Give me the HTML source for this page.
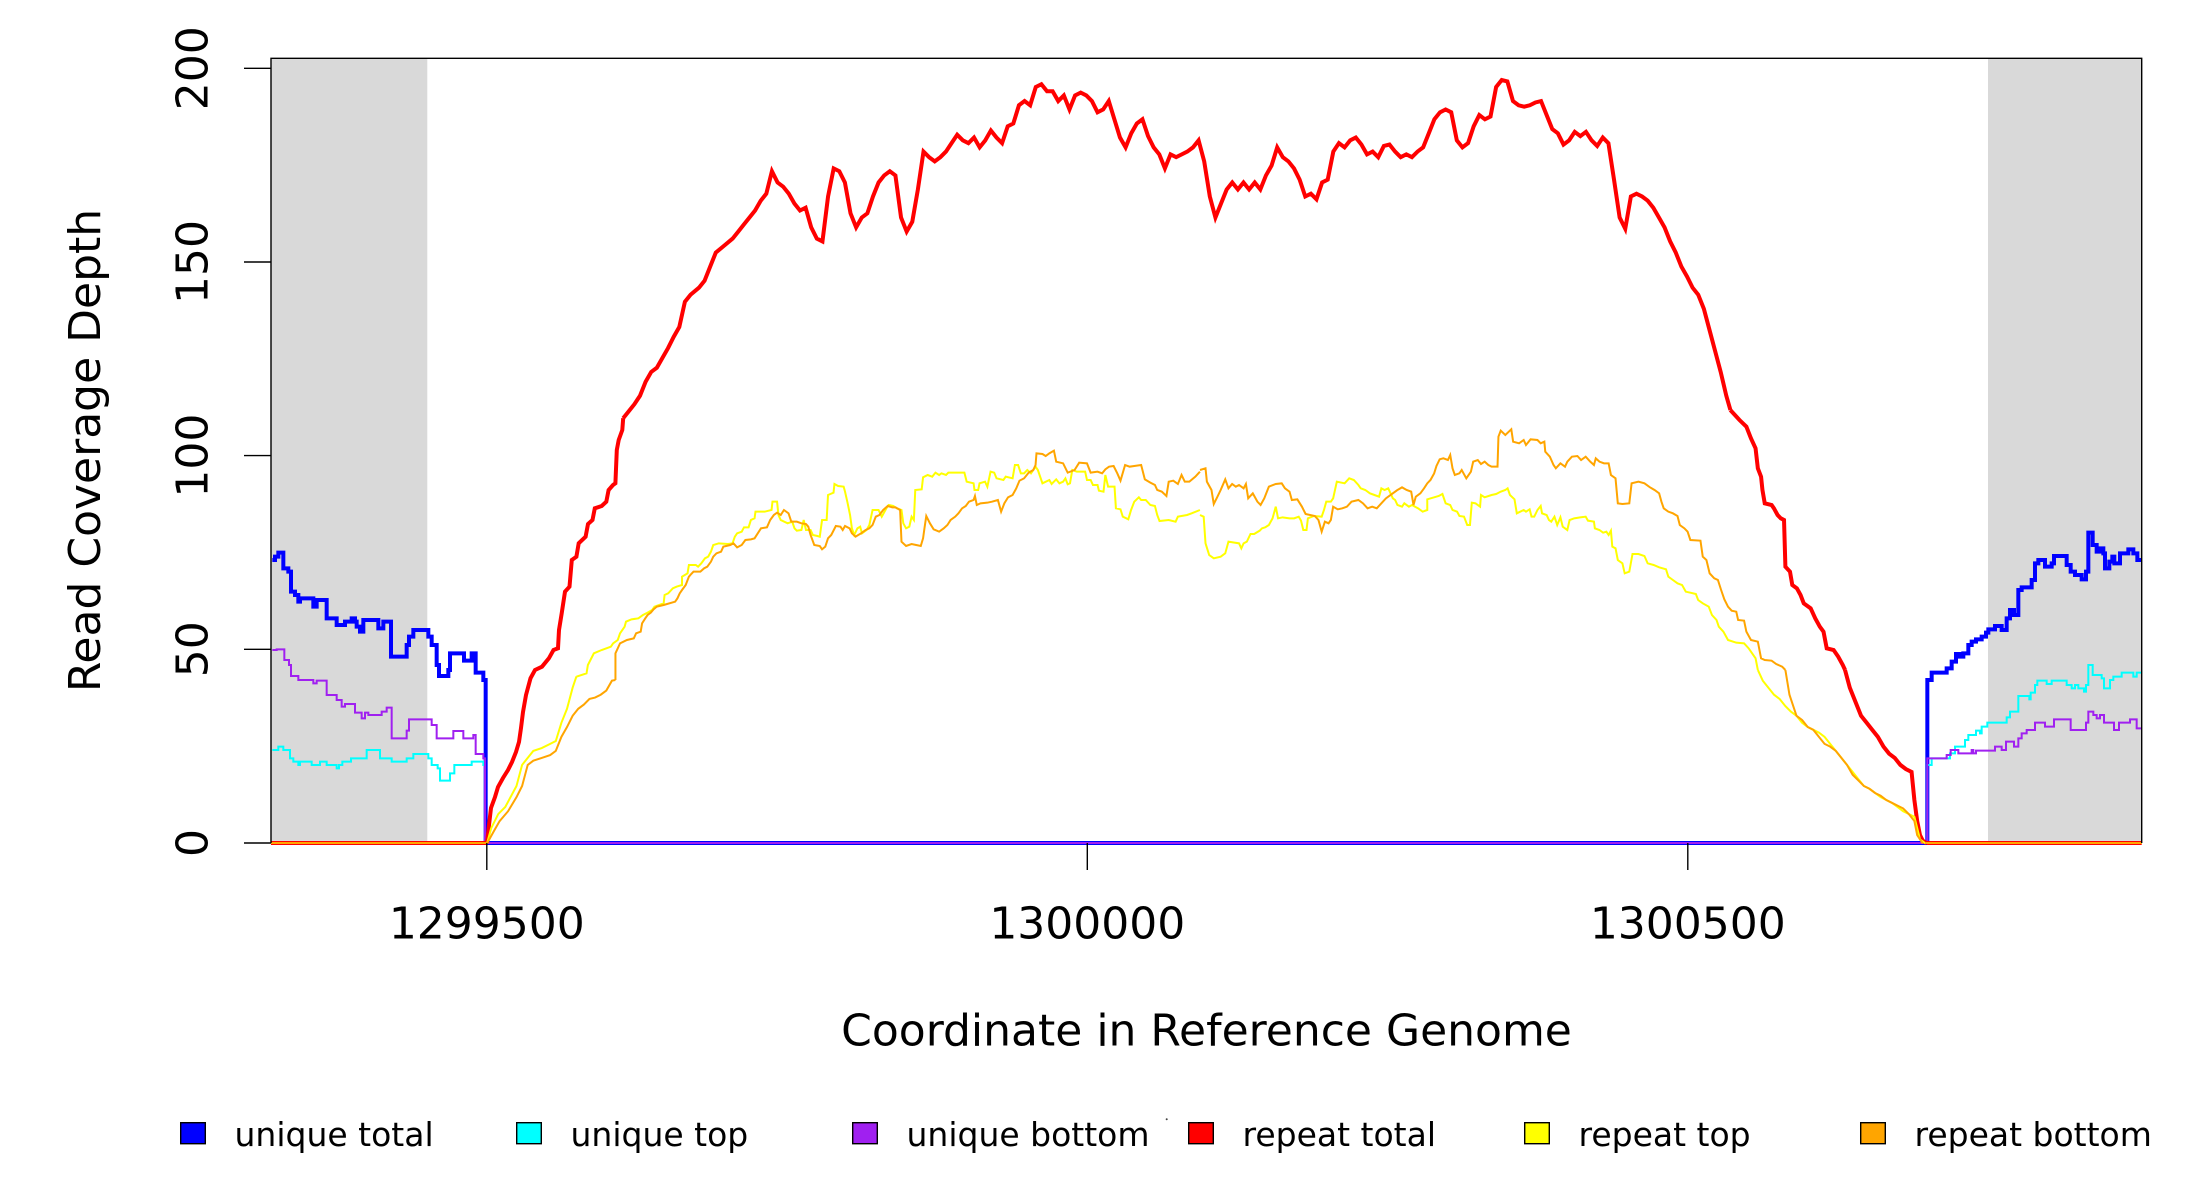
<!DOCTYPE html>
<html>
<head>
<meta charset="utf-8">
<style>
html,body{margin:0;padding:0;background:#fff;}
svg{display:block;}
text{font-family:"DejaVu Sans","Liberation Sans",sans-serif;fill:#000;}
.ns{vector-effect:non-scaling-stroke;fill:none;stroke-linejoin:miter;stroke-linecap:butt;}
</style>
</head>
<body>
<svg width="2200" height="1200" viewBox="0 0 2200 1200" xmlns="http://www.w3.org/2000/svg">
<rect x="0" y="0" width="2200" height="1200" fill="#fff"/>
<!-- gray regions -->
<rect x="271" y="58" width="156.3" height="785" fill="#d9d9d9"/>
<rect x="1988" y="58" width="153.7" height="785" fill="#d9d9d9"/>

<!-- ===== unique total (blue) ===== -->
<g transform="translate(265,530) scale(0.333333)">
<path class="ns" stroke="#0000ff" stroke-width="4" d="M22,90 H30 V80 H40 V68 H55 V115 H70 V125 H78 V185 H90 V195 H100 V215 H105 V205 H145 V230 H155 V210 H185 V265 H215 V285 H240 V275 H260 V265 H270 V275 H275 V290 H285 V305 H295 V270 H340 V295 H355 V275 H378 V380 H425 V345 H432 V320 H445 V300 H490 V320 H500 V345 H515 V405 H522 V438 H550 V420 H555 V370 H597 V392 H620 V370 H632 V428 H655 V450 H662 V939"/>
</g>
<path class="ns" stroke="#0000ff" stroke-width="4" d="M485.7,843 H1927.3"/>
<g transform="translate(1900,500) scale(0.333333)">
<path class="ns" stroke="#0000ff" stroke-width="4" d="M82,1029 V540 H95 V518 H140 V505 H155 V485 H168 V462 H180 V470 H190 V460 H205 V435 H215 V425 H228 V418 H245 V410 H258 V398 H265 V388 H285 V378 H305 V390 H320 V355 H330 V330 H342 V345 H355 V270 H365 V262 H395 V240 H405 V190 H415 V180 H435 V200 H455 V190 H462 V168 H500 V195 H512 V215 H525 V225 H545 V238 H558 V215 H565 V98 H578 V135 H590 V155 H600 V145 H610 V160 H615 V205 H628 V185 H637 V170 H643 V190 H660 V160 H685 V148 H700 V160 H712 V180 H725"/>
</g>

<!-- ===== unique top (cyan) ===== -->
<g transform="translate(265,530) scale(0.333333)">
<path class="ns" stroke="#00ffff" stroke-width="2" d="M22,660 H40 V650 H55 V660 H75 V685 H85 V695 H100 V705 H105 V695 H140 V705 H165 V695 H185 V705 H215 V715 H222 V705 H232 V695 H258 V685 H305 V660 H345 V685 H380 V695 H425 V685 H445 V672 H490 V685 H500 V705 H518 V715 H525 V752 H555 V730 H568 V705 H620 V695 H655 V705 H660 V939"/>
</g>
<g transform="translate(1900,500) scale(0.333333)">
<path class="ns" stroke="#00ffff" stroke-width="2" d="M82,1029 V795 H95 V775 H150 V760 H165 V740 H195 V720 H205 V705 H228 V692 H240 V700 H245 V680 H262 V668 H320 V652 H330 V635 H355 V588 H388 V598 H392 V578 H405 V555 H412 V542 H440 V552 H455 V542 H500 V555 H515 V565 H525 V555 H535 V565 H552 V575 H558 V555 H565 V495 H578 V525 H605 V535 H612 V565 H630 V540 H640 V530 H665 V518 H700 V530 H710 V518 H725"/>
</g>

<!-- ===== unique bottom (purple) ===== -->
<g transform="translate(265,530) scale(0.333333)">
<path class="ns" stroke="#a020f0" stroke-width="2" d="M22,360 H35 V358 H58 V390 H72 V405 H78 V438 H100 V450 H145 V460 H155 V452 H185 V495 H215 V510 H230 V530 H240 V522 H270 V548 H290 V565 H300 V548 H310 V555 H350 V545 H365 V533 H380 V625 H425 V602 H432 V568 H500 V585 H515 V625 H565 V603 H595 V625 H625 V615 H632 V672 H655 V685 H660 V939"/>
</g>
<path class="ns" stroke="#a020f0" stroke-width="2" d="M485.7,843 H1927.3"/>
<g transform="translate(1900,500) scale(0.333333)">
<path class="ns" stroke="#a020f0" stroke-width="2" d="M82,1029 V775 H140 V765 H152 V750 H175 V760 H215 V750 H220 V760 H228 V752 H285 V740 H305 V750 H318 V725 H342 V740 H355 V715 H365 V700 H380 V690 H405 V668 H435 V680 H462 V658 H512 V690 H558 V668 H565 V635 H580 V645 H590 V655 H600 V645 H612 V668 H642 V690 H657 V668 H690 V658 H710 V685 H725"/>
</g>

<!-- ===== repeat total (red) ===== -->
<path class="ns" stroke="#ff0000" stroke-width="4" d="M271,843 H487 M1927,843 H2141.7"/>
<path class="ns" stroke="#ff0000" stroke-width="4" d="M487,843 L489,825 L491,808 L495,797 L498,787 L503,778 L508,770 L512,762 L516,752 L519,742 L521,728 L523,712 L526,695 L530.5,678.3 L535,670 L542,666.7 L548.9,658.3 L553.5,650 L558,648.3 L559,630 L561.7,613.3 L565,591.7 L569.5,586.7 L571.8,560 L576.4,556.7 L578.7,543.3 L585.6,536.7 L588,524 L592.5,520 L594.8,508.3 L601.7,506 L606.3,501.7 L608.6,490 L613,485 L615.4,483.3 L616.8,450 L618.7,440 L622.3,430 L623.2,418.2"/>
<g transform="scale(1.4035)">
<path class="ns" stroke="#ff0000" stroke-width="4" d="M444,298 L448,293 L452,288 L456,282 L460,272 L464,265 L468,262 L472,255 L476,248 L480,240 L484,233 L488,215 L492,210 L498,205 L502,200 L506,190 L510,180 L516,175 L522,170 L526,165 L530,160 L534,155 L538,150 L542,143 L546,138 L550,122 L554,130 L558,133 L562,138 L566,145 L570,150 L574,148 L578,162 L582,170 L586,172 L590,140 L594,120 L598,122 L602,130 L606,152 L610,162 L614,155 L618,152 L622,140 L626,130 L630,125 L634,122 L638,125 L642,155 L646,165 L650,158 L654,135 L658,108 L662,112 L666,115 L670,112 L674,108 L678,102 L682,96 L686,100 L690,102 L694,98 L698,105 L702,100 L706,93 L710,98 L714,102 L718,90 L722,88 L726,75 L730,72 L734,75 L738,62 L742,60 L746,65 L750,65 L754,72 L758,68 L762,78 L766,68 L770,66 L774,68 L778,72 L782,80 L786,78 L790,72 L794,85 L798,98 L802,105 L806,95 L810,88 L814,85 L818,97 L822,105 L826,110 L830,120 L834,110 L838,112 L842,110 L846,108 L850,105 L854,100 L858,115 L862,140 L866,155 L870,145 L874,135 L878,130 L882,135 L886,130 L890,135 L894,130 L898,135 L902,125 L906,118 L910,105 L914,112 L918,115 L922,120 L926,128 L930,140 L934,138 L938,142 L942,130 L946,128 L950,108 L954,102 L958,105 L962,100 L966,98 L970,103 L974,110 L978,108 L982,112 L986,104 L990,103 L994,108 L998,112 L1002,110 L1006,112 L1010,108 L1014,105 L1018,95 L1022,85 L1026,80 L1030,78 L1034,80 L1038,100 L1042,105 L1046,102 L1050,90 L1054,82 L1058,85 L1062,83 L1066,62 L1070,57 L1074,58 L1078,72 L1082,75 L1086,76 L1090,75 L1094,73 L1098,72 L1102,82 L1106,92 L1110,95 L1114,103 L1118,100 L1122,94 L1126,97 L1130,94 L1134,100 L1138,104 L1142,98 L1146,102 L1150,128 L1154,155 L1158,163 L1162,140 L1166,138 L1170,140 L1174,143 L1178,148 L1182,155 L1186,162 L1190,172 L1194,180 L1198,190 L1202,197 L1206,205 L1210,210 L1214,220 L1218,235 L1222,250 L1226,265 L1230,282 L1232.9,292.1"/>
<path class="ns" stroke="#ff0000" stroke-width="4" d="M1314.6,477.4 L1318,490 L1322,500 L1326,510 L1330,515 L1334,520 L1338,525 L1342,532 L1346,537 L1350,540 L1354,545 L1358,548 L1362,550 L1364,570 L1366,585 L1368,595 L1370,599 L1373,601"/>
</g>
<g transform="translate(1200,410) scale(0.459137,0.333333)">
<path class="ns" stroke="#ff0000" stroke-width="4" d="M1155,0 L1175,30 L1190,50 L1200,85 L1210,115 L1215,175 L1222,200 L1225,240 L1230,280 L1245,285 L1250,295 L1258,315 L1265,325 L1272,330 L1275,470 L1285,485 L1290,525 L1300,535 L1308,555 L1315,580 L1330,595 L1340,625 L1350,650 L1358,665 L1365,715 L1380,720 L1390,740 L1400,765 L1405,780"/>
</g>

<!-- ===== repeat top (yellow) ===== -->
<path class="ns" stroke="#ffff00" stroke-width="2" d="M271,843 H487 M1925,843 H2141.7"/>
<g transform="scale(1.4035)">
<path class="ns" stroke="#ffff00" stroke-width="2" d="M347,601 L350,590 L355,580 L360,575 L368,560 L372,545 L376,540 L380,535 L386,533 L392,530 L396,528 L400,515 L404,505 L408,490 L410.7,482"/>
<path class="ns" stroke="#ffff00" stroke-width="2" d="M1252.5,477.4 L1256,485 L1260,490 L1264,495 L1268,498 L1272,503 L1276,507 L1280,510 L1284,515 L1288,518 L1292,520 L1296,522 L1300,525 L1304,530 L1308,535 L1312,540 L1316,545 L1320,550 L1324,555 L1328,560 L1332,562 L1336,565 L1340,568 L1344,570 L1348,572 L1352,575 L1356,578 L1360,580 L1364,582 L1366,590 L1368,598 L1372,601"/>
</g>
<g transform="translate(480,420) scale(0.459137,0.333333)">
<path class="ns" stroke="#ffff00" stroke-width="2" d="M210,770 L232,760 L235,735 L248,700 L265,690 L285,680 L290,670 L300,660 L305,640 L315,620 L318,605 L330,598 L345,595 L355,585 L365,578 L375,570 L380,560 L400,550 L402,525 L410,520 L420,505 L428,500 L440,495 L440,470 L452,460 L455,435 L470,435 L475,440 L482,430 L490,415 L497,410 L503,395 L508,375 L520,370 L540,372 L550,370 L555,350 L560,340 L570,335 L575,322 L585,322 L590,300 L598,295 L600,275 L620,275 L635,270 L637,245 L647,245 L650,285 L655,300 L670,310 L680,305 L685,325 L690,332 L700,330 L705,300 L710,330 L720,330 L725,345 L735,348 L740,350 L745,300 L755,300 L758,225 L770,218 L772,192 L780,198 L792,200 L795,215 L800,245 L806,285 L810,325 L815,345 L822,325 L828,320 L832,340 L842,330 L848,315 L855,270 L868,270 L875,290 L885,265 L890,255 L900,258 L908,265 L918,270 L922,310 L928,325 L935,320 L940,290 L945,300 L948,210 L962,208 L965,172 L975,165 L985,170 L992,158 L1000,165 L1005,160 L1015,165 L1020,158 L1055,158 L1060,185 L1075,190 L1077,210 L1085,210 L1088,190 L1100,185 L1105,200 L1112,155 L1120,158 L1125,175 L1140,180 L1145,170 L1160,175 L1165,135 L1172,135 L1178,160 L1185,160 L1192,150 L1200,160 L1210,140 L1215,150 L1225,190 L1240,180 L1245,192 L1255,178 L1262,190 L1270,185 L1275,175 L1280,193 L1285,190 L1290,150 L1300,155 L1318,155 L1322,180 L1330,180 L1335,195 L1345,195 L1348,212 L1358,215 L1362,165 L1368,200 L1382,200 L1385,265 L1395,268 L1400,290 L1412,298 L1418,270 L1425,245 L1435,232 L1440,240 L1450,240 L1460,255 L1470,258 L1475,285 L1480,303 L1500,300 L1515,305 L1520,290 L1540,285 L1550,280 L1568,270"/>
</g>
<g transform="translate(1200,410) scale(0.459137,0.333333)">
<path class="ns" stroke="#ffff00" stroke-width="2" d="M0,315 L8,320 L12,400 L20,435 L30,445 L45,440 L55,430 L62,395 L75,398 L85,400 L90,415 L95,400 L102,395 L110,372 L118,372 L130,362 L135,355 L142,352 L150,345 L158,325 L165,290 L170,325 L180,322 L195,325 L205,325 L215,320 L220,332 L225,360 L232,360 L235,325 L248,318 L265,320 L270,300 L275,275 L285,275 L290,265 L298,215 L315,220 L325,205 L335,210 L345,225 L350,235 L360,240 L370,250 L380,255 L390,260 L395,235 L402,240 L410,235 L415,250 L420,265 L425,270 L430,285 L440,290 L445,280 L455,290 L462,285 L468,290 L475,295 L485,305 L495,300 L495,268 L510,262 L520,258 L528,252 L535,280 L545,285 L550,300 L560,305 L565,318 L575,320 L582,345 L588,345 L592,278 L600,280 L610,290 L612,255 L620,262 L635,255 L645,252 L655,245 L665,240 L670,235 L675,255 L685,268 L690,310 L705,300 L710,305 L718,298 L722,320 L728,320 L735,300 L742,288 L745,310 L755,315 L760,330 L765,335 L772,320 L778,345 L785,322 L790,350 L800,360 L805,330 L815,325 L828,322 L840,320 L845,332 L858,335 L860,355 L870,360 L878,368 L885,365 L890,375 L895,362 L898,410 L905,415 L910,450 L920,460 L925,490 L935,485 L942,432 L955,432 L968,438 L975,460 L988,465 L1000,472 L1015,478 L1020,500 L1030,510 L1040,520 L1050,525 L1058,545 L1068,548 L1080,552 L1085,570 L1095,580 L1108,590 L1115,615 L1125,630 L1130,650 L1140,665 L1150,690 L1168,698 L1185,700 L1195,715 L1210,745 L1215,780"/>
</g>

<!-- ===== repeat bottom (orange) ===== -->
<path class="ns" stroke="#ffa500" stroke-width="2" d="M271,843 H487 M1925,843 H2141.7"/>
<g transform="scale(1.4035)">
<path class="ns" stroke="#ffa500" stroke-width="2" d="M347,601 L352,592 L356,585 L362,578 L368,568 L372,560 L376,545 L380,542 L386,540 L392,538 L396,535 L400,525 L404,518 L408,510 L412,505 L416,502 L420,498 L424,497 L428,495 L432,492 L436,485 L438.5,484.5"/>
<path class="ns" stroke="#ffa500" stroke-width="2" d="M1272.1,477.4 L1275,495 L1280,510 L1284,513 L1288,518 L1292,520 L1296,525 L1300,530 L1304,532 L1308,535 L1312,540 L1316,545 L1320,552 L1324,556 L1328,560 L1332,562 L1336,565 L1340,567 L1344,570 L1348,572 L1352,574 L1356,576 L1360,580 L1364,585 L1366,595 L1370,601"/>
</g>
<g transform="translate(480,420) scale(0.459137,0.333333)">
<path class="ns" stroke="#ffa500" stroke-width="2" d="M295,780 L295,700 L305,670 L320,660 L335,655 L340,640 L350,635 L353,610 L360,595 L365,585 L372,578 L378,568 L385,560 L400,555 L425,545 L430,535 L435,520 L440,510 L448,495 L455,470 L460,462 L465,455 L480,455 L488,445 L495,440 L503,425 L508,410 L515,400 L525,395 L530,380 L545,375 L552,370 L560,382 L570,375 L578,360 L590,358 L598,355 L605,340 L612,325 L625,322 L632,300 L640,285 L647,278 L655,285 L662,270 L672,280 L678,305 L690,305 L700,310 L710,312 L715,320 L720,345 L728,375 L740,378 L745,388 L752,380 L758,355 L765,345 L775,318 L785,320 L790,330 L795,318 L805,325 L810,340 L818,350 L830,340 L840,330 L848,325 L855,315 L862,290 L870,285 L878,270 L888,258 L898,262 L905,262 L915,270 L918,365 L928,378 L940,372 L950,375 L960,378 L965,355 L968,325 L972,288 L980,310 L988,328 L1000,335 L1010,325 L1018,315 L1025,300 L1035,290 L1042,280 L1050,265 L1058,258 L1065,245 L1075,240 L1078,228 L1082,255 L1090,250 L1105,248 L1115,245 L1128,240 L1135,275 L1142,250 L1150,232 L1160,225 L1168,205 L1175,182 L1185,175 L1195,158 L1205,150 L1210,135 L1212,100 L1225,102 L1232,108 L1240,100 L1250,92 L1255,125 L1270,130 L1280,158 L1295,150 L1305,128 L1322,130 L1330,158 L1345,155 L1355,160 L1362,148 L1370,140 L1380,138 L1388,160 L1395,182 L1405,135 L1415,140 L1425,138 L1440,135 L1448,178 L1460,188 L1470,195 L1475,210 L1485,215 L1495,228 L1500,185 L1510,182 L1520,192 L1528,165 L1535,185 L1545,185 L1558,170 L1568,155"/>
</g>
<g transform="translate(1200,410) scale(0.459137,0.333333)">
<path class="ns" stroke="#ffa500" stroke-width="2" d="M0,180 L12,175 L15,215 L25,240 L30,282 L38,260 L45,240 L55,208 L62,235 L70,222 L78,230 L85,225 L95,235 L100,222 L105,265 L115,250 L125,275 L132,285 L140,265 L150,230 L165,222 L178,220 L185,235 L195,245 L200,270 L212,268 L222,290 L230,312 L250,318 L258,330 L265,365 L272,335 L280,340 L285,330 L290,290 L300,298 L310,295 L320,290 L330,275 L345,270 L355,280 L365,295 L375,290 L385,295 L395,280 L405,265 L420,250 L430,240 L440,232 L450,240 L460,245 L465,285 L470,260 L480,250 L488,235 L495,220 L502,210 L510,190 L515,168 L522,148 L530,145 L540,150 L545,135 L550,175 L555,195 L565,190 L570,180 L580,205 L590,185 L595,155 L605,150 L612,162 L620,155 L628,165 L635,170 L648,170 L650,80 L655,62 L665,75 L678,58 L682,95 L695,100 L705,90 L710,105 L720,88 L735,90 L742,100 L750,95 L752,125 L762,140 L770,165 L775,175 L785,160 L795,170 L800,155 L810,140 L822,138 L830,150 L840,140 L850,155 L858,165 L862,145 L870,155 L880,160 L890,160 L895,195 L905,205 L910,280 L920,282 L935,280 L940,220 L955,215 L968,220 L980,232 L990,240 L1000,250 L1005,275 L1010,295 L1020,305 L1030,310 L1040,318 L1045,345 L1055,355 L1062,365 L1068,390 L1090,392 L1095,440 L1103,450 L1110,490 L1120,505 L1128,510 L1135,540 L1142,568 L1150,590 L1158,602 L1168,605 L1172,630 L1185,632 L1190,665 L1200,690 L1215,695 L1222,745 L1230,750 L1245,752 L1255,762 L1268,770 L1275,780"/>
</g>

<!-- box -->
<path d="M271,843 V58.3 H2141.7 V843" fill="none" stroke="#000" stroke-width="1.4"/>

<!-- ticks -->
<g stroke="#000" stroke-width="1.4">
<line x1="244" y1="843" x2="271" y2="843"/>
<line x1="244" y1="649.3" x2="271" y2="649.3"/>
<line x1="244" y1="455.6" x2="271" y2="455.6"/>
<line x1="244" y1="262" x2="271" y2="262"/>
<line x1="244" y1="68.3" x2="271" y2="68.3"/>
<line x1="486.8" y1="843" x2="486.8" y2="870"/>
<line x1="1087.3" y1="843" x2="1087.3" y2="870"/>
<line x1="1687.8" y1="843" x2="1687.8" y2="870"/>
</g>

<!-- labels -->
<g font-size="44" text-anchor="middle">
<text transform="translate(207.5,843) rotate(-90)">0</text>
<text transform="translate(207.5,649.3) rotate(-90)">50</text>
<text transform="translate(207.5,455.6) rotate(-90)">100</text>
<text transform="translate(207.5,262) rotate(-90)">150</text>
<text transform="translate(207.5,68.3) rotate(-90)">200</text>
<text x="486.8" y="938.5">1299500</text>
<text x="1087.3" y="938.5">1300000</text>
<text x="1687.8" y="938.5">1300500</text>
<text x="1206.5" y="1045.5">Coordinate in Reference Genome</text>
<text transform="translate(100,450.5) rotate(-90)">Read Coverage Depth</text>
</g>

<!-- legend -->
<g stroke="#000" stroke-width="1.4">
<rect x="180.7" y="1122.7" width="24.6" height="21" fill="#0000ff"/>
<rect x="516.7" y="1122.7" width="24.6" height="21" fill="#00ffff"/>
<rect x="852.7" y="1122.7" width="24.6" height="21" fill="#a020f0"/>
<rect x="1188.7" y="1122.7" width="24.6" height="21" fill="#ff0000"/>
<rect x="1524.7" y="1122.7" width="24.6" height="21" fill="#ffff00"/>
<rect x="1860.7" y="1122.7" width="24.6" height="21" fill="#ffa500"/>
</g>
<g font-size="33">
<text x="234.5" y="1146">unique total</text>
<text x="570.5" y="1146">unique top</text>
<text x="906.5" y="1146">unique bottom</text>
<text x="1242.5" y="1146">repeat total</text>
<text x="1578.5" y="1146">repeat top</text>
<text x="1914.5" y="1146">repeat bottom</text>
</g>
<circle cx="1166.7" cy="1119.3" r="1" fill="#444"/>
</svg>
</body>
</html>
